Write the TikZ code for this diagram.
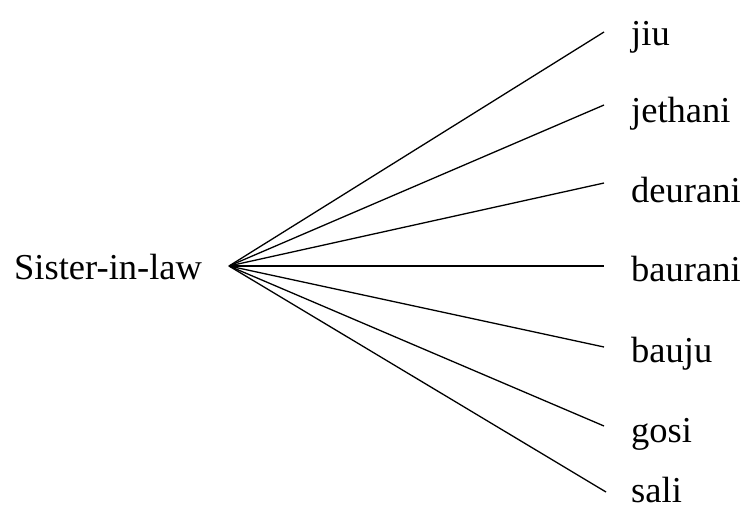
\documentclass[tikz,border=0pt]{standalone}
\usepackage{fontspec}
\setmainfont{Liberation Serif}
\begin{document}
\begin{tikzpicture}[x=1pt,y=-1pt,
  lbl/.style={anchor=base west,inner sep=0pt,font=\fontsize{36.5}{40}\selectfont},
  edge/.style={line width=1.3pt}]
\useasboundingbox (0,0) rectangle (746,512);
\node[lbl] (root) at (14,279) {Sister-in-law};
\coordinate (hub) at (229,266);
\node[lbl] (jiu) at (631,45) {jiu};
\node[lbl] (jethani) at (631,122) {jethani};
\node[lbl] (deurani) at (631,202) {deurani};
\node[lbl] (baurani) at (631,281) {baurani};
\node[lbl] (bauju) at (631,362) {bauju};
\node[lbl] (gosi) at (631,442) {gosi};
\node[lbl] (sali) at (631,502) {sali};
\coordinate (e1) at (604,32);
\coordinate (e2) at (604,105);
\coordinate (e3) at (604,183);
\coordinate (e4) at (604,266);
\coordinate (e5) at (604,347);
\coordinate (e6) at (604,426);
\coordinate (e7) at (606,492);
\foreach \e in {e1,e2,e3,e4,e5,e6,e7} \draw[edge] (hub) -- (\e);
\end{tikzpicture}
\end{document}
